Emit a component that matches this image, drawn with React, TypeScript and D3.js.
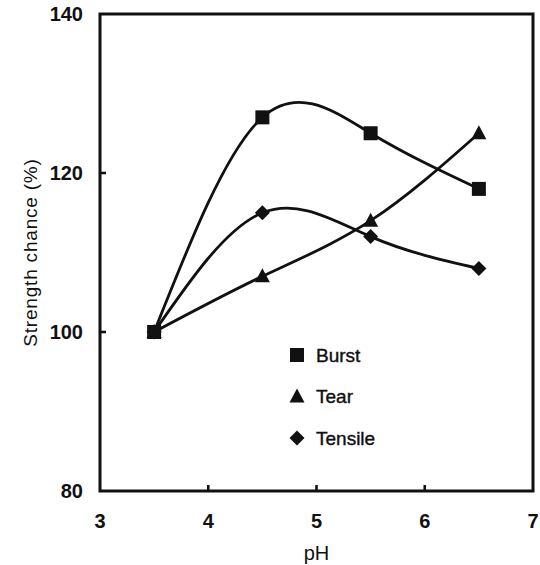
import * as d3 from 'd3'

// values
let phValues = [3.5, 4.5, 5.5, 6.5]
let burst = [100, 127, 125, 118]
let tear = [100, 107, 114, 125]
let tensile = [100, 115, 112, 108]
let xTicks = [3, 4, 5, 6, 7]
let yTicks = [80, 100, 120, 140]
let seriesNames = ['Burst', 'Tear', 'Tensile']

let width = 540
let height = 565
let margin = { top: 14, right: 7, bottom: 74, left: 100 }
let innerWidth = width - margin.left - margin.right
let innerHeight = height - margin.top - margin.bottom

let font = 'Arial, "Liberation Sans", sans-serif'

let Marker = ({ kind, x, y }: { kind: string; x: number; y: number }) => {
    if (kind === 'Burst') {
        return <rect x={x - 7} y={y - 7} width={14} height={14} fill='#111' />
    }
    if (kind === 'Tear') {
        return <path d={`M${x},${y - 8} L${x + 7.5},${y + 6} L${x - 7.5},${y + 6} Z`} fill='#111' />
    }
    return <path d={`M${x},${y - 7.5} L${x + 7.5},${y} L${x},${y + 7.5} L${x - 7.5},${y} Z`} fill='#111' />
}

let App = () => {
    let xScale = d3.scaleLinear().domain([3, 7]).range([0, innerWidth])
    let yScale = d3.scaleLinear().domain([80, 140]).range([innerHeight, 0])

    // natural spline gives the steep start like the original smoothing
    let line = d3.line<[number, number]>()
        .x(d => xScale(d[0]))
        .y(d => yScale(d[1]))
        .curve(d3.curveNatural)

    let series = [
        { name: 'Burst', values: burst },
        { name: 'Tear', values: tear },
        { name: 'Tensile', values: tensile },
    ]

    return (
        <svg width={width} height={height} style={{ position: 'absolute', left: 0, top: 0, background: '#fff' }}>
            <g transform={`translate(${margin.left},${margin.top})`} fontFamily={font}>
                {series.map(s => (
                    <path
                        key={s.name}
                        d={line(phValues.map((p, i) => [p, s.values[i]] as [number, number])) || ''}
                        fill='none'
                        stroke='#111'
                        strokeWidth={2.8}
                    />
                ))}
                {series.map(s => phValues.map((p, i) => (
                    <Marker key={s.name + p} kind={s.name} x={xScale(p)} y={yScale(s.values[i])} />
                )))}

                {/* frame */}
                <rect x={0} y={0} width={innerWidth} height={innerHeight} fill='none' stroke='#111' strokeWidth={3} />

                {xTicks.map(t => (
                    <g key={t} transform={`translate(${xScale(t)},${innerHeight})`}>
                        {t > 3 && t < 7 && <line y1={0} y2={-6} stroke='#111' strokeWidth={2.6} />}
                        <text y={37} textAnchor='middle' fontSize={20} fontWeight='bold' fill='#111'>{t}</text>
                    </g>
                ))}
                {yTicks.map(t => (
                    <g key={t} transform={`translate(0,${yScale(t)})`}>
                        {t > 80 && t < 140 && <line x1={0} x2={6} stroke='#111' strokeWidth={2.6} />}
                        <text x={-17} dy='.36em' textAnchor='end' fontSize={20} fontWeight='bold' fill='#111'>{t}</text>
                    </g>
                ))}

                {/* axis titles */}
                <text x={xScale(5)} y={innerHeight + 69} textAnchor='middle' fontSize={20} fill='#111'>pH</text>
                <text
                    transform={`translate(${-63},${innerHeight / 2}) rotate(-90)`}
                    textAnchor='middle'
                    fontSize={19}
                    letterSpacing={0.8}
                    fill='#111'
                >Strength chance (%)</text>

                {/* legend */}
                {seriesNames.map((name, i) => (
                    <g key={name} transform={`translate(${197},${341 + i * 41.5})`}>
                        <Marker kind={name} x={0} y={0} />
                        <text x={19} dy='.36em' fontSize={19} fill='#111' stroke='#111' strokeWidth={0.4}>{name}</text>
                    </g>
                ))}
            </g>
        </svg>
    )
}

export default App
